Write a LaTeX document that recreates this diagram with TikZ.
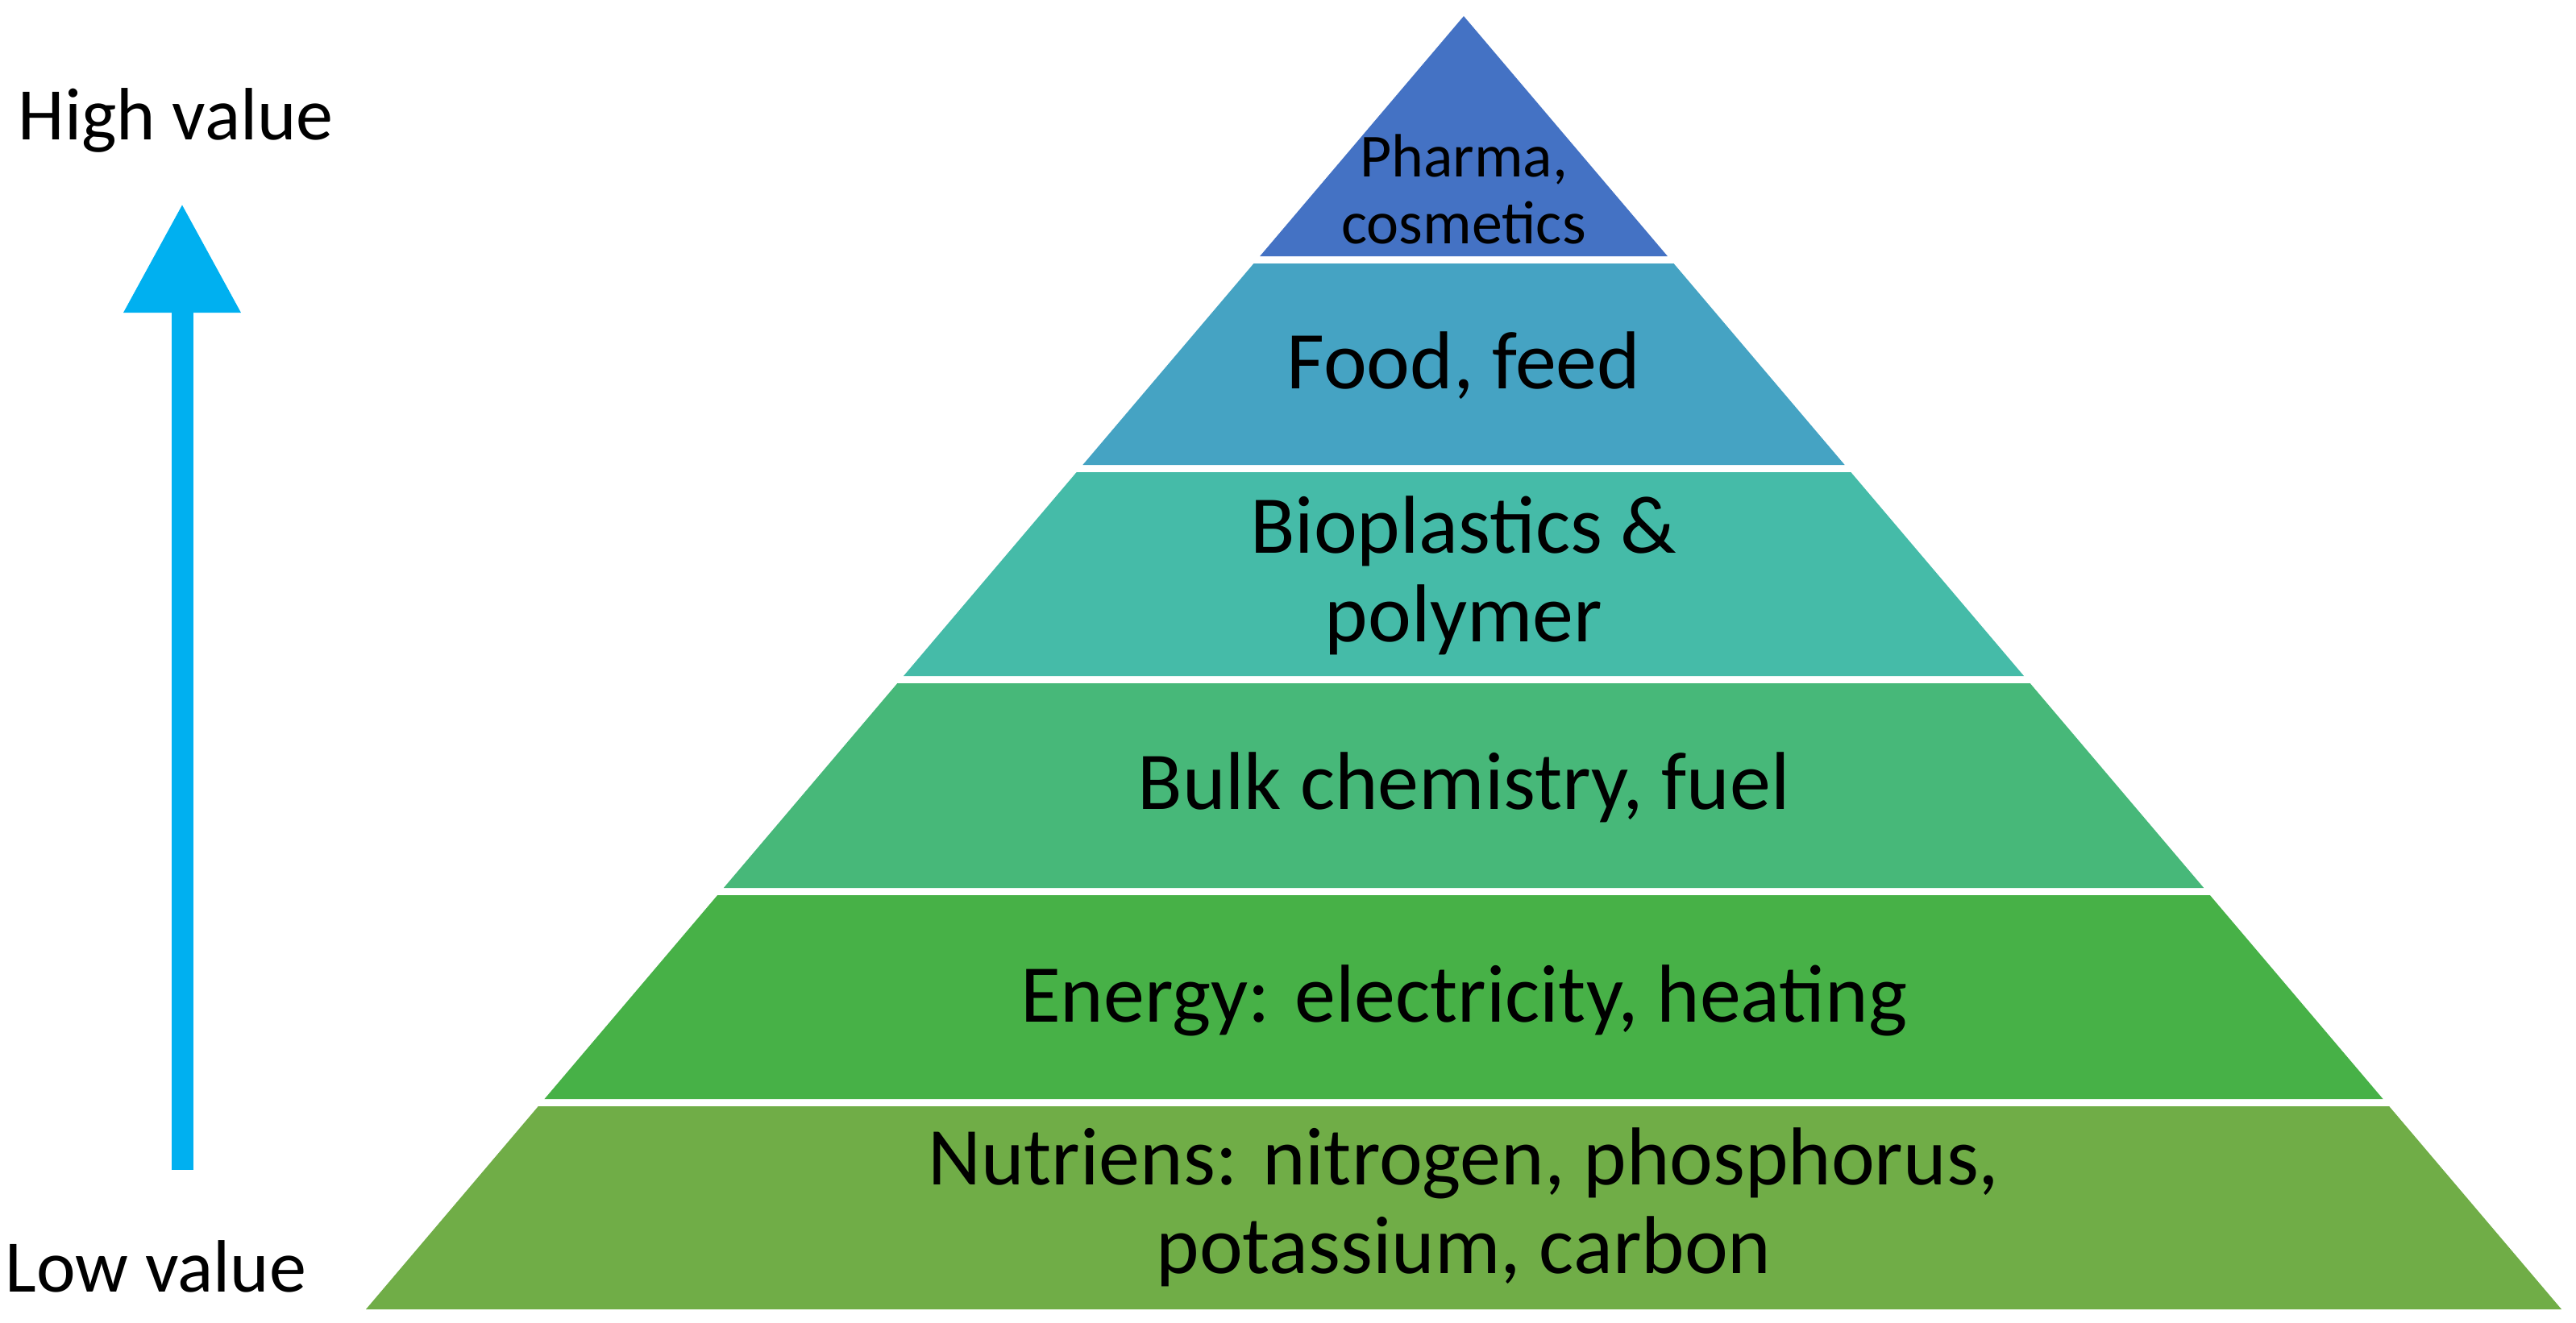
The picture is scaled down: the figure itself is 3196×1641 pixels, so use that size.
\documentclass[tikz,border=0pt]{standalone}
\usepackage{fontspec}
\setmainfont{Carlito}
\usetikzlibrary{arrows.meta}
\definecolor{cpharma}{HTML}{4472C4}
\definecolor{cfood}{HTML}{45A3C3}
\definecolor{cbio}{HTML}{45BBA8}
\definecolor{cbulk}{HTML}{47B879}
\definecolor{cenergy}{HTML}{47B147}
\definecolor{cnutr}{HTML}{70AD47}
\definecolor{carrow}{HTML}{00B0F0}
\newcommand\pcx{1816}
\newcommand\pya{20}
\newcommand\psl{0.8486}
\newcommand\pyrband[3]{%
  \fill[#3] ({\pcx-\psl*(#1-\pya)},#1) -- ({\pcx+\psl*(#1-\pya)},#1) --
    ({\pcx+\psl*(#2-\pya)},#2) -- ({\pcx-\psl*(#2-\pya)},#2) -- cycle;}
\begin{document}
\begin{tikzpicture}[x=0.1mm,y=-0.1mm,
  lvltext/.style={inner sep=0pt, align=center, anchor=base,
    font=\fontsize{29pt}{31.3pt}\selectfont},
  toptext/.style={inner sep=0pt, align=center, anchor=base,
    font=\fontsize{21.6pt}{23.6pt}\selectfont},
  sidetext/.style={inner sep=0pt, anchor=base west,
    font=\fontsize{26.2pt}{30pt}\selectfont},
  valuearrow/.style={draw=carrow, line width=2.7mm,
    -{Triangle[width=13.8mm,length=13.5mm]}}]
\useasboundingbox (0,0) rectangle (3196,1641);
% pyramid
\fill[cpharma] (\pcx,\pya) -- ({\pcx+\psl*(318-\pya)},318) -- ({\pcx-\psl*(318-\pya)},318) -- cycle;
\pyrband{327}{577}{cfood}
\pyrband{586}{839}{cbio}
\pyrband{848}{1102}{cbulk}
\pyrband{1111}{1364}{cenergy}
\pyrband{1373}{1625}{cnutr}
% labels (base anchor = baseline of the last line)
\node[toptext] (pharma) at (1816,302) {Pharma,\\cosmetics};
\node[lvltext] (food) at (1816,482) {Food, feed};
\node[lvltext] (bio) at (1816,796) {Bioplastics \&\\polymer};
\node[lvltext] (bulk) at (1816,1004) {Bulk chemistry, fuel};
\node[lvltext] (energy) at (1816,1268) {Energy: electricity, heating};
\node[lvltext] (nutr) at (1816,1580) {Nutriens: nitrogen, phosphorus,\\potassium, carbon};
% value axis
\node[sidetext] (high) at (22,173) {High value};
\node[sidetext] (low) at (6,1603) {Low value};
\coordinate (lowend) at (226,1452);
\coordinate (highend) at (226,253);
\draw[valuearrow] (lowend) -- (highend);
\end{tikzpicture}
\end{document}
